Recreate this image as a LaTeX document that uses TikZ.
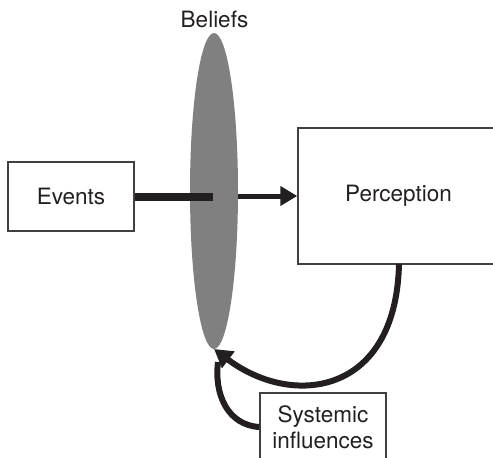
\documentclass[tikz,border=0pt]{standalone}
\usepackage{fontspec}
\setmainfont{TeX Gyre Heros}
\usetikzlibrary{shapes.geometric,arrows.meta}
\definecolor{ink}{HTML}{231F20}
\definecolor{boxline}{HTML}{404040}
\definecolor{beliefgray}{HTML}{808080}
\tikzset{
  labeltext/.style={font=\fontsize{22.5}{25.5}\selectfont, text=ink},
  boxnode/.style={draw=boxline, line width=1.5pt, fill=white, inner sep=0pt, labeltext},
  flow/.style={draw=ink, line width=5pt, -{Triangle[length=17pt,width=19pt]}},
  loopflow/.style={draw=ink, line width=6pt, -{Triangle[length=18pt,width=20pt]}},
  loop/.style={draw=ink, line width=6pt},
}
\begin{document}
\begin{tikzpicture}[x=1pt,y=-1pt]
  \useasboundingbox (0,0) rectangle (493,458);

  % belief filter
  \node[ellipse, fill=beliefgray, inner sep=0pt, minimum width=48pt, minimum height=316pt] (beliefs) at (214,191) {};
  \node[labeltext, anchor=base] (beliefslabel) at (214.5,27) {Beliefs};

  % boxes
  \node[boxnode, minimum width=126pt, minimum height=69pt] (events) at (71,196.5) {Events};
  \node[boxnode, minimum width=201pt, minimum height=136pt, text depth=6pt] (perception) at (398.5,196) {Perception};
  \node[boxnode, minimum width=126pt, minimum height=80pt, align=center, text depth=12pt] (systemic) at (323,433) {Systemic\\influences};

  % events pass into the beliefs
  \coordinate (barend) at (213,196.7);
  \draw[draw=ink, line width=8pt] (events.east |- barend) -- (barend);

  % beliefs shape perception
  \coordinate (beliefsout) at (beliefs.east |- 0,196);
  \draw[flow] (beliefsout) -- (perception.west |- beliefsout);

  % feedback loops into the beliefs
  \coordinate (percout) at (399,264);
  \coordinate (tip) at (214,349);
  \draw[loop] ([yshift=6pt]systemic.west) .. controls (228,425) and (214,395) .. (218,362);
  \draw[loopflow] (percout) .. controls (396,396) and (292,408) .. (tip);
\end{tikzpicture}
\end{document}
